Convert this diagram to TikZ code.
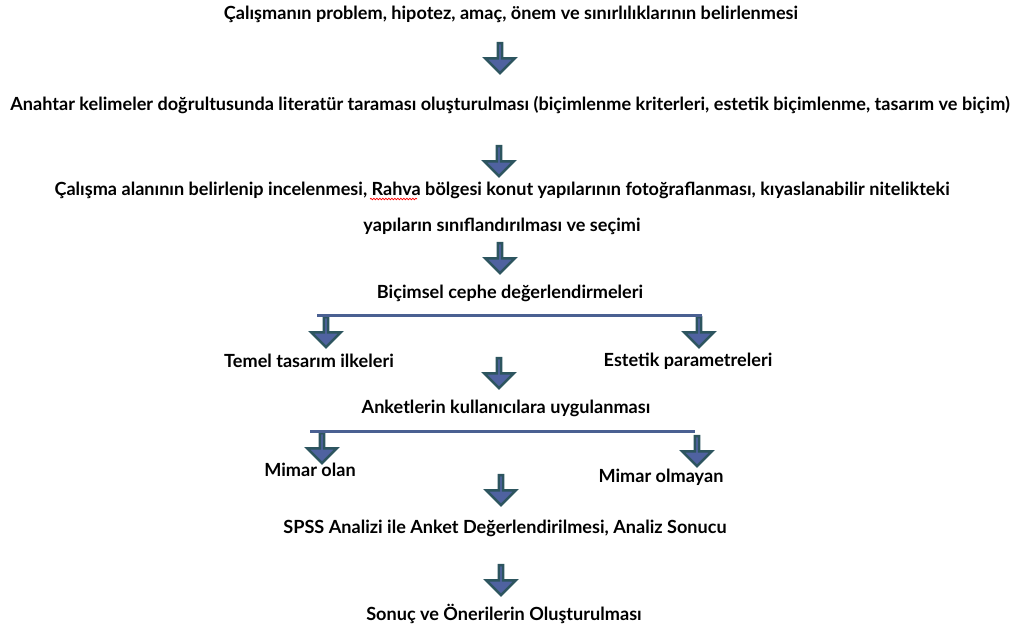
\documentclass[tikz,border=0pt]{standalone}
\usepackage{fontspec}
\setmainfont{Lato}
\usetikzlibrary{shapes}
\usetikzlibrary{shapes.arrows}
\usetikzlibrary{decorations.pathmorphing}

\definecolor{arrowfill}{RGB}{79,98,160}
\definecolor{arrowedge}{RGB}{45,85,95}
\definecolor{barline}{RGB}{74,96,146}

\tikzset{
    txt/.style={font=\fontsize{10.3}{20.4}\selectfont\bfseries, inner sep=0pt, align=center},
    blockarrow/.style={single arrow, draw=arrowedge, fill=arrowfill, line width=0.5mm, rotate=-90,
        inner sep=0pt, minimum height=6mm, minimum width=5.9mm, single arrow head extend=1.4mm},
    bar/.style={draw=barline, line width=0.6mm},
    squiggle/.style={draw=red, line width=0.15mm, decorate, decoration={snake, amplitude=0.15mm, segment length=0.6mm}}
}

\begin{document}
\begin{tikzpicture}[x=0.2mm, y=-0.2mm]
    \useasboundingbox (0,0) rectangle (1019,628);

    \node[txt] (T1) at (511, 14) {Çalışmanın problem, hipotez, amaç, önem ve sınırlılıklarının belirlenmesi};
    \node[txt] (T2) at (510, 105) {Anahtar kelimeler doğrultusunda literatür taraması oluşturulması (biçimlenme kriterleri, estetik biçimlenme, tasarım ve biçim)};
    \node[txt] (T3) at (502, 208) {Çalışma alanının belirlenip incelenmesi, Rahva bölgesi konut yapılarının fotoğraflanması, kıyaslanabilir nitelikteki\\yapıların sınıflandırılması ve seçimi};
    \node[txt] (T4) at (510, 293) {Biçimsel cephe değerlendirmeleri};
    \node[txt] (L1) at (309, 361) {Temel tasarım ilkeleri};
    \node[txt] (R1) at (688, 361) {Estetik parametreleri};
    \node[txt] (T5) at (506, 408) {Anketlerin kullanıcılara uygulanması};
    \node[txt] (L2) at (310, 470) {Mimar olan};
    \node[txt] (R2) at (661, 477) {Mimar olmayan};
    \node[txt] (T6) at (505, 528) {SPSS Analizi ile Anket Değerlendirilmesi, Analiz Sonucu};
    \node[txt] (T7) at (504, 614) {Sonuç ve Önerilerin Oluşturulması};

    \node[blockarrow] (A1) at (500, 57) {};
    \node[blockarrow] (A2) at (499, 160) {};
    \node[blockarrow] (A3) at (500, 257) {};
    \node[blockarrow] (AL1) at (326, 331) {};
    \node[blockarrow] (AR1) at (699, 331) {};
    \node[blockarrow] (A4) at (499, 372) {};
    \node[blockarrow] (AL2) at (322, 447) {};
    \node[blockarrow] (AR2) at (697, 450) {};
    \node[blockarrow] (A5) at (501, 489) {};
    \node[blockarrow] (A6) at (501, 579) {};

    \draw[bar] ([xshift=-1.8mm]AL1.west) -- ([xshift=0.6mm]AR1.west);
    \draw[bar] ([xshift=-2.4mm]AL2.west) -- ([xshift=-0.4mm]AL2.west -| AR2.west);
    \draw[squiggle] (370, 199) -- (417, 199);

\end{tikzpicture}
\end{document}
